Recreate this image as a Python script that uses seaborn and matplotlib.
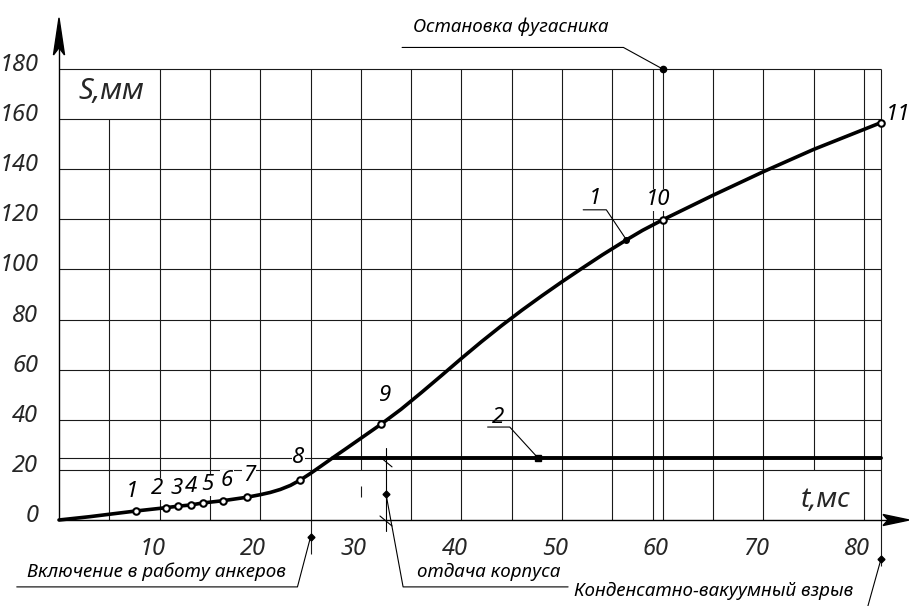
import matplotlib
matplotlib.use("Agg")
import matplotlib.pyplot as plt
import seaborn as sns
from matplotlib.transforms import ScaledTranslation

# Displacement S (mm) of the body versus time t (ms)
curve_t = [0.0, 3.0, 7.65, 10.6, 11.8, 13.1, 14.3, 16.3, 18.7, 20.0, 21.0,
           22.0, 23.0, 24.0, 25.0, 26.0, 27.2, 28.5, 30.0, 32.0, 34.0, 36.0,
           38.0, 40.0, 42.0, 44.0, 46.0, 48.0, 50.0, 52.0, 54.0, 56.4, 58.0,
           60.0, 65.0, 70.0, 75.0, 81.7]
curve_s = [0.0, 1.3, 3.6, 4.9, 5.5, 6.0, 6.8, 7.7, 9.1, 10.1, 11.0,
           12.2, 13.8, 16.0, 18.6, 21.4, 24.8, 28.4, 32.6, 38.2, 44.2, 50.8,
           57.6, 64.5, 71.2, 77.6, 83.7, 89.5, 95.1, 100.5, 105.8, 111.8, 115.6,
           119.8, 129.6, 139.0, 147.9, 158.6]

# Numbered measurement points on curve 1
point_t = [7.65, 10.6, 11.8, 13.1, 14.3, 16.3, 18.7, 24.0, 32.0, 60.0, 81.7]
point_s = [3.6, 4.9, 5.5, 6.0, 6.8, 7.7, 9.1, 16.0, 38.2, 119.8, 158.6]
point_names = ["1", "2", "3", "4", "5", "6", "7", "8", "9", "10", "11"]

# Curve 2: body recoil level
line2_t = [27.2, 81.7]
line2_s = [24.8, 24.8]

x_ticks = [10, 20, 30, 40, 50, 60, 70, 80]
y_ticks = [0, 20, 40, 60, 80, 100, 120, 140, 160, 180]

# Event times (ms)
t_anchors = 25.0   # anchors engage
t_recoil = 32.5    # body recoil
t_stop = 60.0      # charge stops
t_blast = 81.7     # condensed-vacuum blast
t_extra = 59.0

T_MAX = 81.7
S_MAX = 180.0

sns.set_theme(style="white")
plt.rcParams["font.family"] = ["Noto Sans", "DejaVu Sans"]
plt.rcParams["font.style"] = "italic"
plt.rcParams["font.stretch"] = "condensed"

W, H = 909, 606
fig = plt.figure(figsize=(W / 100, H / 100), dpi=100)
ax = fig.add_axes([59 / W, 86 / H, 822 / W, 451 / H])
ax.set_xlim(0, T_MAX)
ax.set_ylim(0, S_MAX)
for sp in ax.spines.values():
    sp.set_visible(False)
ax.set_facecolor("white")

GRID = dict(color="#1a1a1a", lw=0.8, zorder=1, clip_on=False)

# vertical grid
for t in range(5, 81, 5):
    if t == 5:
        ax.vlines(t, 0, 160, **GRID)
    elif t == 75:
        ax.vlines(t, 20, 180, **GRID)
    elif t == 30:
        ax.vlines(t, 20, 180, **GRID)
        ax.vlines(t, 9, 13.5, **GRID)
    elif t == 25:
        ax.vlines(t, -13.6, 180, **GRID)
    else:
        ax.vlines(t, 0, 180, **GRID)
ax.vlines(t_extra, 0, 180, **GRID)
ax.vlines(t_blast, -18.5, 180, **GRID)

# horizontal grid
for s in range(20, 181, 20):
    ax.hlines(s, 0, T_MAX, **GRID)
ax.hlines(line2_s[0], 0, line2_t[0], **GRID)

# axes with arrows
ax.plot([0, 0], [0, 195], color="black", lw=1.0, clip_on=False, zorder=2)
ax.fill([-0.55, 0, 0.55, 0], [185.6, 200.4, 185.6, 188.5], color="black",
        clip_on=False, zorder=3)
ax.plot([0, 83], [0, 0], color="black", lw=1.0, clip_on=False, zorder=2)
ax.fill([81.9, 84.5, 81.9, 82.4], [-2.2, 0, 2.2, 0], color="black",
        clip_on=False, zorder=3)

# curve 1 and curve 2
sns.lineplot(x=curve_t, y=curve_s, sort=False, estimator=None, color="black",
             lw=2.6, ax=ax, clip_on=False, zorder=4)
sns.lineplot(x=line2_t, y=line2_s, sort=False, estimator=None, color="black",
             lw=2.8, ax=ax, clip_on=False, zorder=4)
sns.scatterplot(x=point_t, y=point_s, marker="o", s=22, color="white",
                edgecolor="black", linewidth=1.5, ax=ax, zorder=6,
                clip_on=False)

NUM = dict(fontsize=16, color="black", style="italic", fontstretch="condensed")
TXT = dict(fontsize=13.5, color="black", style="italic",
           fontstretch="condensed")
BOX = dict(facecolor="white", edgecolor="none", pad=0.5)

# point numbers (offsets in pixels)
label_offsets = [(-4, 19), (-9, 19), (-1, 18), (0, 18), (4, 18), (4, 20),
                 (2, 22), (-2, 22), (4, 29), (-5, 20), (17, 8)]
for t, s, name, off in zip(point_t, point_s, point_names, label_offsets):
    ax.annotate(name, (t, s), xytext=off, textcoords="offset pixels",
                ha="center", va="center", bbox=BOX, zorder=5, **NUM)

# leader for curve 1
lead1_t, lead1_s = 56.4, 111.8
ax.plot([lead1_t], [lead1_s], "o", color="black", ms=4, zorder=7)
ax.plot([lead1_t, 54.4, 52.1], [lead1_s, 123.8, 123.8], color="black",
        lw=0.8, zorder=5)
ax.text(53.3, 128.5, "1", ha="center", va="center", **NUM)

# leader for curve 2
lead2_t = 47.6
ax.plot([lead2_t], [line2_s[0]], "s", color="black", ms=4, zorder=7)
ax.plot([lead2_t, 44.8, 42.6], [line2_s[0], 37.1, 37.1], color="black",
        lw=0.8, zorder=5)
ax.text(43.6, 40.9, "2", ha="center", va="center", **NUM)

# event: charge stop
ax.plot([t_stop], [180], "o", color="black", ms=4.5, clip_on=False, zorder=7)
ax.plot([t_stop, 56.1, 34.1], [180, 188.6, 188.6], color="black", lw=0.8,
        clip_on=False)
ax.text(35.2, 197.0, "Остановка фугасника", ha="left", va="center", **TXT)

# event: anchors engage
ax.plot([t_anchors], [-6.8], "D", color="black", ms=3.5, clip_on=False,
        zorder=7)
ax.plot([t_anchors, 23.7, -4.2], [-6.8, -26.7, -26.7], color="black",
        lw=0.8, clip_on=False)
ax.text(-3.2, -20.6, "Включение в работу анкеров", ha="left", va="center",
        **TXT)

# event: body recoil
ax.plot([t_recoil, t_recoil], [28.7, -4.4], color="black", lw=0.8,
        clip_on=False, zorder=5)
for sc in (23.2, -0.4):
    ax.plot([t_recoil - 0.6, t_recoil + 0.6], [sc + 2.0, sc - 2.0],
            color="black", lw=0.8, clip_on=False, zorder=5)
ax.plot([t_recoil], [10.4], "D", color="black", ms=3.5, clip_on=False,
        zorder=7)
ax.plot([t_recoil, 34.2, 50.6], [10.4, -26.7, -26.7], color="black",
        lw=0.8, clip_on=False)
ax.text(35.6, -20.6, "отдача корпуса", ha="left", va="center", **TXT)

# event: condensed-vacuum blast
ax.plot([t_blast], [-15.6], "D", color="black", ms=3.5, clip_on=False,
        zorder=7)
ax.plot([t_blast, 80.4], [-15.6, -34.3], color="black", lw=0.8,
        clip_on=False)
ax.text(65.1, -28.3, "Конденсатно-вакуумный взрыв", ha="center",
        va="center", **TXT)

# axis titles
ax.text(5.2, 170.9, "S,мм", ha="center", va="center", fontsize=21,
        style="italic", fontstretch="condensed")
ax.text(76.2, 8.0, "t,мс", ha="center", va="center", fontsize=20,
        style="italic", fontstretch="condensed")

# tick labels
ax.set_xticks(x_ticks, labels=[str(v) for v in x_ticks])
ax.set_yticks(y_ticks, labels=[str(v) for v in y_ticks])
ax.tick_params(axis="both", length=0, labelsize=17)
ax.tick_params(axis="x", pad=12)
ax.tick_params(axis="y", pad=15)
for lab in ax.get_xticklabels():
    lab.set_style("italic")
    lab.set_fontstretch("condensed")
    lab.set_transform(lab.get_transform()
                      + ScaledTranslation(-0.07, 0, fig.dpi_scale_trans))
for lab in ax.get_yticklabels():
    lab.set_style("italic")
    lab.set_fontstretch("condensed")
    lab.set_transform(lab.get_transform()
                      + ScaledTranslation(0, 0.07, fig.dpi_scale_trans))
ax.grid(False)

fig.savefig("out.png", dpi=100, facecolor="white")
